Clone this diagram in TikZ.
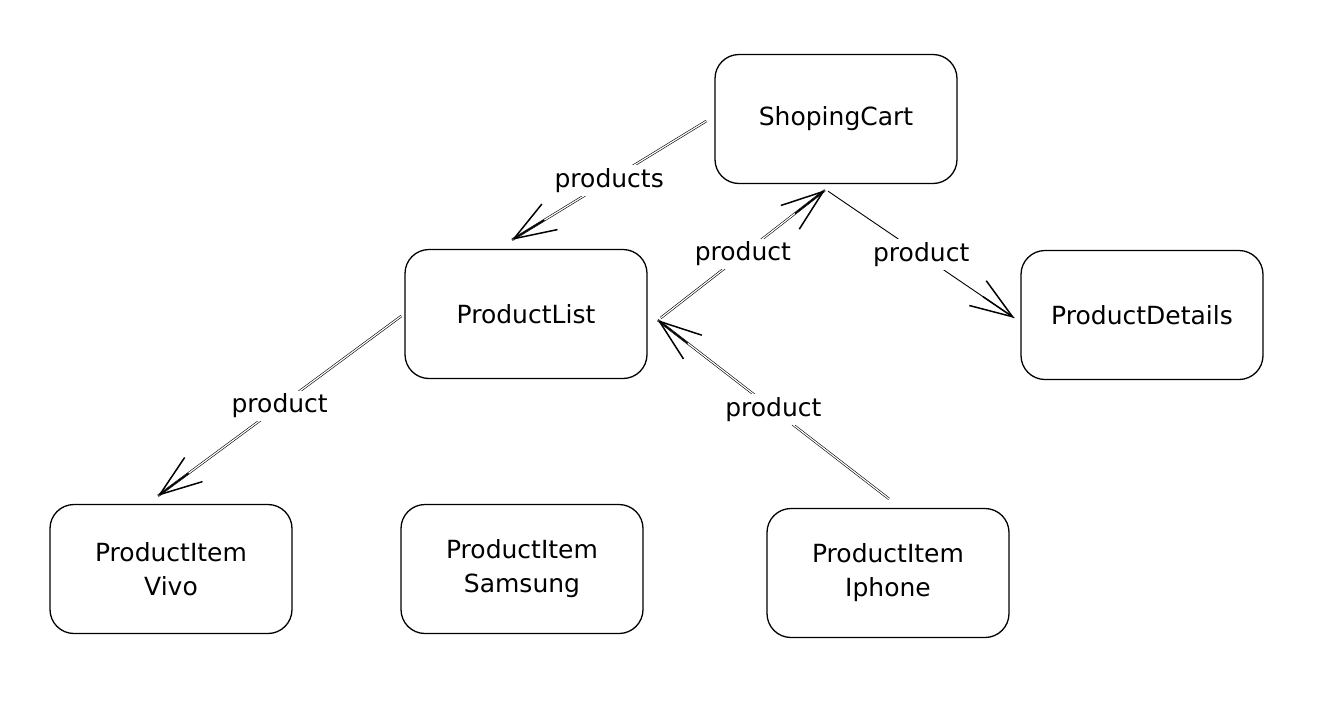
\documentclass[tikz,border=0pt]{standalone}
\usepackage{fontspec}
\setmainfont{DejaVu Sans}
\usetikzlibrary{arrows.meta,calc}
\begin{document}
\begin{tikzpicture}[x=1pt,y=-1pt,
  box/.style={draw=black, line width=1.3pt, rounded corners=24pt, minimum width=242pt, minimum height=129pt, align=center, font=\fontsize{25}{34}\selectfont, inner sep=0pt},
  conn/.style={draw=black, double=white, double distance=1.2pt, line width=0.6pt},
  conns/.style={draw=black, line width=0.9pt},
  tip/.style={draw=black, line width=1.5pt, -{Straight Barb[length=42pt,width=30pt]}},
  lbl/.style={fill=white, inner sep=3pt, font=\fontsize{25}{28}\selectfont}]
\useasboundingbox (0,0) rectangle (1328,716);
\node[box] (sc) at (836,119) {ShopingCart};
\node[box] (pl) at (526,314) {ProductList};
\node[box] (pd) at (1142,315) {ProductDetails};
\node[box] (vivo) at (171,569) {ProductItem\\Vivo};
\node[box] (sam) at (522,569) {ProductItem\\Samsung};
\node[box] (iph) at (888,573) {ProductItem\\Iphone};
% coordinates for connector ends
\coordinate (e1a) at ($(sc.west)+(-8,2)$);
\coordinate (e1b) at ($(pl.north)+(-14,-9)$);
\coordinate (e2a) at ($(pl.east)+(13,4)$);
\coordinate (e2b) at ($(sc.south)+(-11,6)$);
\coordinate (e3a) at ($(sc.south)+(-8,7)$);
\coordinate (e3b) at ($(pd.west)+(-6,3)$);
\coordinate (e4a) at ($(pl.west)+(-3,2)$);
\coordinate (e4b) at ($(vivo.north)+(-13,-8)$);
\coordinate (e5a) at ($(iph.north)+(1,-9)$);
\coordinate (e5b) at ($(pl.east)+(10,6)$);
% connectors
\draw[conn] (e1a) -- (e1b);
\draw[tip] ($(e1b)!38pt!(e1a)$) -- (e1b);
\node[lbl] at ($(e1a)!0.5!(e1b)$) {products};
\draw[conn] (e2a) -- (e2b);
\draw[tip] ($(e2b)!38pt!(e2a)$) -- (e2b);
\node[lbl] at ($(e2a)!0.5!(e2b)$) {product};
\draw[conns] (e3a) -- (e3b);
\draw[tip] ($(e3b)!38pt!(e3a)$) -- (e3b);
\node[lbl] at ($(e3a)!0.5!(e3b)$) {product};
\draw[conn] (e4a) -- (e4b);
\draw[tip] ($(e4b)!38pt!(e4a)$) -- (e4b);
\node[lbl] at ($(e4a)!0.5!(e4b)$) {product};
\draw[conn] (e5a) -- (e5b);
\draw[tip] ($(e5b)!38pt!(e5a)$) -- (e5b);
\node[lbl] at ($(e5a)!0.5!(e5b)$) {product};
\end{tikzpicture}
\end{document}
